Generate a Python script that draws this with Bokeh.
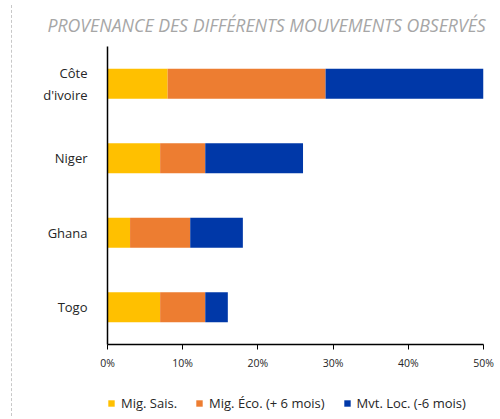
from bokeh.plotting import figure
from bokeh.models import Legend, LegendItem, PrintfTickFormatter, FixedTicker, FactorRange, Div
from bokeh.layouts import row, column
from bokeh.embed import file_html
from bokeh.resources import INLINE

countries = ["Côte\nd'ivoire", "Niger", "Ghana", "Togo"]
mig_sais = [8, 7, 3, 7]
mig_eco = [21, 6, 8, 6]
mvt_loc = [21.3, 13, 7, 3]
series_names = ["Mig. Sais.", "Mig. Éco. (+ 6 mois)", "Mvt. Loc. (-6 mois)"]
colors = ["#FFC000", "#ED7D31", "#0038A8"]
x_ticks = [0, 10, 20, 30, 40, 50]
title_text = "PROVENANCE DES DIFFÉRENTS MOUVEMENTS OBSERVÉS"

data = dict(country=countries, a=mig_sais, b=mig_eco, c=mvt_loc)

p = figure(
    y_range=FactorRange(factors=list(reversed(countries))),
    x_range=(0, 50),
    width=477, height=372,
    output_backend="svg", toolbar_location=None,
    min_border_left=90, min_border_right=11, min_border_top=43, min_border_bottom=25,
)
p.outline_line_color = None
p.background_fill_color = "white"
p.border_fill_color = "white"

renderers = p.hbar_stack(["a", "b", "c"], y="country", height=0.4, color=colors,
                         line_color=None, source=data)

p.title.text = title_text
p.title.text_font = "Open Sans"
p.title.text_font_style = "italic"
p.title.text_font_size = "17.7px"
p.title.text_color = "#a6a6a6"
p.title.align = "left"
p.title.offset = -60
p.title.standoff = 20

p.xgrid.grid_line_color = None
p.ygrid.grid_line_color = None

p.xaxis.ticker = FixedTicker(ticks=x_ticks)
p.xaxis.formatter = PrintfTickFormatter(format="%d%%")
p.xaxis.axis_line_color = "black"
p.xaxis.axis_line_width = 1.5
p.xaxis.major_tick_line_color = "black"
p.xaxis.major_tick_out = 5
p.xaxis.major_tick_in = 0
p.xaxis.minor_tick_line_color = None
p.xaxis.major_label_text_font = "Open Sans"
p.xaxis.major_label_text_font_size = "10.5px"
p.xaxis.major_label_text_color = "#262626"
p.xaxis.major_label_standoff = 6

p.yaxis.axis_line_color = "black"
p.yaxis.axis_line_width = 1.5
p.yaxis.major_tick_line_color = None
p.yaxis.minor_tick_line_color = None
p.yaxis.major_label_text_font = "Open Sans"
p.yaxis.major_label_text_font_size = "13px"
p.yaxis.major_label_text_color = "#262626"
p.yaxis.major_label_standoff = 14

# legend figure (frame aligned with the main frame)
lf = figure(width=477, height=39, x_range=(0, 1), y_range=(0, 1),
            x_axis_location=None, y_axis_location=None,
            output_backend="svg", toolbar_location=None,
            min_border_left=90, min_border_right=11, min_border_top=0, min_border_bottom=0)
lf.grid.grid_line_color = None
lf.outline_line_color = None
lf.background_fill_color = None
lf.border_fill_color = None
dummies = []
for c in colors:
    r = lf.hbar(y=[0.5], left=[0], right=[1], height=0.5, color=c, line_color=None)
    r.visible = False
    dummies.append(r)

legend = Legend(
    items=[LegendItem(label=n, renderers=[r]) for n, r in zip(series_names, dummies)],
    orientation="horizontal",
    location=(0, -1),
    glyph_width=8, glyph_height=8, label_height=14,
    label_standoff=6, spacing=18, padding=0, margin=0,
    border_line_color=None, background_fill_alpha=0,
    label_text_font="Open Sans", label_text_font_size="13px",
    label_text_color="#262626",
)
lf.add_layout(legend, "center")

side = Div(width=7, height=411, styles={"border-right": "1px dashed #c8c8c8", "box-sizing": "border-box"})
layout = row(side, column(p, lf, spacing=0), spacing=0)

open("out.html", "w").write(file_html(layout, INLINE))
